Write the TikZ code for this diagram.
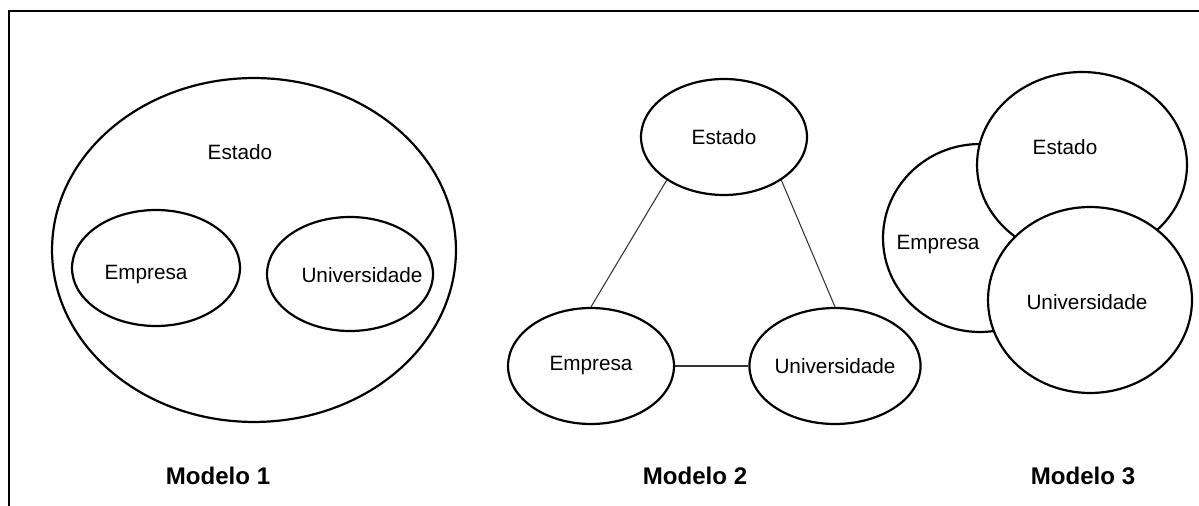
\documentclass[tikz,border=0pt]{standalone}
\usepackage{fontspec}
\setmainfont{Liberation Sans}
\usetikzlibrary{shapes.geometric}
\colorlet{traco}{black}

\begin{document}
\begin{tikzpicture}[x=0.02cm, y=-0.02cm,
        elipse/.style={ellipse, draw=traco, fill=white, line width=1.25pt, inner sep=0pt,
            font=\fontsize{11.8}{14}\selectfont},
        rotulo/.style={inner sep=0pt, font=\fontsize{11.8}{14}\selectfont},
        modelo/.style={inner sep=0pt, font=\fontsize{13.7}{16}\selectfont\bfseries},
        ligacao/.style={draw=traco!80, line width=0.6pt}]
        \useasboundingbox (0,0) rectangle (1199,506);
        \draw[traco, line width=1.1pt] (1199,11) -- (9,11) -- (9,506);

        % Modelo 1
        \node[elipse, minimum width=8.08cm, minimum height=6.88cm] (estado1) at (254,250) {};
        \node[rotulo] (testado1) at (240,152) {Estado};
        \node[elipse, minimum width=3.36cm, minimum height=2.32cm] (empresa1) at (156,268) {};
        \node[rotulo] (tempresa1) at (146,275) {Empresa};
        \node[elipse, minimum width=3.32cm, minimum height=2.28cm] (univ1) at (350,274) {};
        \node[rotulo] (tuniv1) at (362,275) {Universidade};
        \node[modelo] (modelo1) at (218,476) {Modelo 1};

        % Modelo 2
        \node[elipse, minimum width=3.32cm, minimum height=2.32cm] (estado2) at (724,137) {Estado};
        \node[elipse, minimum width=3.32cm, minimum height=2.32cm] (empresa2) at (591,366) {Empresa};
        \node[elipse, minimum width=3.32cm, minimum height=2.32cm] (univ2) at (835,366) {Universidade};
        \draw[ligacao] (estado2.217) -- (empresa2.north);
        \draw[ligacao] (estado2.323) -- (univ2.north);
        \draw[ligacao] (empresa2) -- (univ2);
        \node[modelo] (modelo2) at (695,476) {Modelo 2};

        % Modelo 3
        \node[elipse, minimum width=3.88cm, minimum height=3.76cm] (empresa3) at (980,238) {};
        \node[elipse, minimum width=4.2cm, minimum height=3.72cm] (estado3) at (1082,165) {};
        \node[elipse, minimum width=4.08cm, minimum height=3.72cm] (univ3) at (1090,300) {};
        \node[rotulo] (tempresa3) at (938,245) {Empresa};
        \node[rotulo] (testado3) at (1065,147) {Estado};
        \node[rotulo] (tuniv3) at (1087,302) {Universidade};
        \node[modelo] (modelo3) at (1083,476) {Modelo 3};
    \end{tikzpicture}
\end{document}
